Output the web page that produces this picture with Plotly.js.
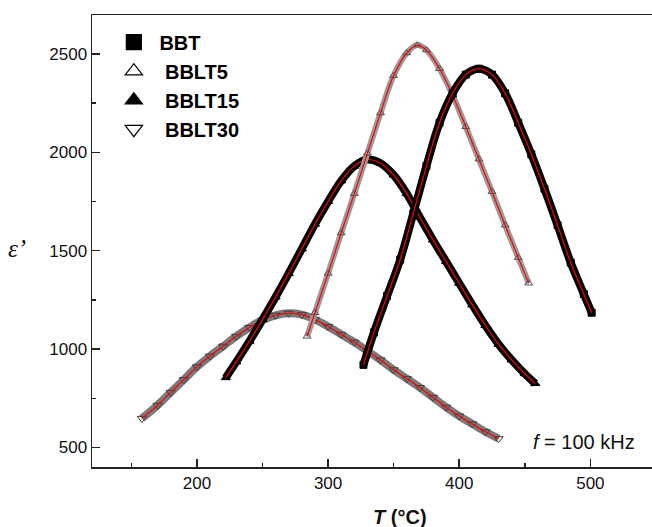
<!DOCTYPE html>
<html>
<head>
<meta charset="utf-8">
<script src="https://cdn.plot.ly/plotly-3.0.1.min.js"></script>
<style>html,body{margin:0;padding:0;background:#fff;}#chart{width:652px;height:527px;}</style>
</head>
<body>
<div id="chart"></div>
<script>
// Temperature (°C) and permittivity values
const T_BBT = [327, 335, 345, 355, 365, 375, 385, 395, 405, 415, 425, 435, 445, 455, 465, 475, 485, 495, 501];
const E_BBT = [920, 1085, 1270, 1455, 1690, 1930, 2150, 2300, 2395, 2425, 2395, 2300, 2150, 1990, 1815, 1630, 1440, 1280, 1185];

const T_BBLT5 = [284, 290, 300, 310, 320, 330, 340, 350, 360, 368, 375, 385, 395, 405, 415, 425, 435, 445, 453];
const E_BBLT5 = [1065, 1185, 1385, 1590, 1790, 1995, 2200, 2390, 2505, 2545, 2520, 2425, 2290, 2130, 1965, 1800, 1630, 1465, 1335];

const T_BBLT15 = [222, 230, 240, 250, 260, 270, 280, 290, 300, 310, 320, 329, 340, 350, 360, 370, 380, 390, 400, 410, 420, 430, 440, 450, 458];
const E_BBLT15 = [855, 935, 1040, 1150, 1265, 1385, 1510, 1635, 1750, 1855, 1930, 1963, 1945, 1885, 1790, 1670, 1555, 1445, 1335, 1225, 1120, 1025, 945, 875, 825];

const T_BBLT30 = [158, 170, 180, 190, 200, 210, 220, 230, 240, 250, 260, 270, 280, 290, 300, 310, 320, 330, 340, 350, 360, 370, 380, 390, 400, 410, 420, 430];
const E_BBLT30 = [648, 715, 780, 845, 910, 965, 1015, 1065, 1110, 1148, 1172, 1182, 1175, 1150, 1115, 1075, 1035, 990, 945, 895, 850, 805, 755, 705, 660, 620, 580, 545];

const seriesNames = ['BBT', '\u00a0BBLT5', '\u00a0BBLT15', '\u00a0BBLT30'];

const FONT = 'Liberation Sans, Arial, Helvetica, sans-serif';

const series = [
  {x: T_BBLT30, y: E_BBLT30, band: '#7a7a7a', bw: 8, sym: 'triangle-down-open', mc: '#3f3f3f', ms: 8},
  {x: T_BBLT15, y: E_BBLT15, band: '#000000', bw: 8, sym: 'triangle-up', mc: '#000000', ms: 8},
  {x: T_BBLT5,  y: E_BBLT5,  band: '#9a9a9a', bw: 6, sym: 'triangle-up-open', mc: '#555555', ms: 7},
  {x: T_BBT,    y: E_BBT,    band: '#000000', bw: 8, sym: 'square', mc: '#000000', ms: 7}
];

const traces = [];
series.forEach(s => {
  traces.push({x: s.x, y: s.y, type: 'scatter', mode: 'lines', showlegend: false, hoverinfo: 'skip',
    line: {color: s.band, width: s.bw, shape: 'spline', smoothing: 1}});
  traces.push({x: s.x, y: s.y, type: 'scatter', mode: 'markers', showlegend: false,
    marker: {symbol: s.sym, color: s.mc, size: s.ms, line: {color: s.mc, width: 1}}});
  traces.push({x: s.x, y: s.y, type: 'scatter', mode: 'lines', showlegend: false, hoverinfo: 'skip',
    line: {color: '#ff0000', width: 1.2, shape: 'spline', smoothing: 1}});
});

// legend entries
const legSyms = [
  {sym: 'square', color: '#000000'},
  {sym: 'triangle-up-open', color: '#000000'},
  {sym: 'triangle-up', color: '#000000'},
  {sym: 'triangle-down-open', color: '#000000'}
];
legSyms.forEach((l, i) => {
  traces.push({x: [null], y: [null], type: 'scatter', mode: 'markers', name: '\u00a0' + seriesNames[i],
    legendgroup: 'g' + i, showlegend: true,
    marker: {symbol: l.sym, color: l.color, size: 15, line: {color: l.color, width: 1.2}}});
});

const layout = {
  width: 652, height: 527,
  margin: {l: 92, r: 0, t: 15, b: 60},
  paper_bgcolor: '#ffffff', plot_bgcolor: '#ffffff',
  font: {family: FONT, color: '#111111'},
  showlegend: true,
  legend: {x: 0.039, y: 0.983, xanchor: 'left', yanchor: 'top', bgcolor: 'rgba(0,0,0,0)',
    font: {family: FONT, size: 20, color: '#000000', weight: 'bold'}, tracegroupgap: 0, traceorder: 'grouped'},
  xaxis: {range: [120, 547], showline: true, linecolor: '#222222', linewidth: 1.5, mirror: true,
    showgrid: false, zeroline: false, ticks: 'inside', ticklen: 8, tickwidth: 1.5, tickcolor: '#222222',
    tick0: 0, dtick: 100, tickfont: {family: FONT, size: 17, color: '#111111'},
    minor: {ticks: 'inside', ticklen: 4, tickwidth: 1.5, tickcolor: '#222222', dtick: 50, tick0: 0, showgrid: false}},
  yaxis: {range: [401, 2698], showline: true, linecolor: '#222222', linewidth: 1.5, mirror: false,
    showgrid: false, zeroline: false, ticks: 'inside', ticklen: 8, tickwidth: 1.5, tickcolor: '#222222',
    tick0: 0, dtick: 500, tickfont: {family: FONT, size: 17, color: '#111111'},
    minor: {ticks: 'inside', ticklen: 4, tickwidth: 1.5, tickcolor: '#222222', dtick: 250, tick0: 0, showgrid: false}},
  annotations: [
    {text: '<b><i>T</i> (°C)</b>', xref: 'paper', yref: 'paper', x: 0.55, y: -0.111, xanchor: 'center', yanchor: 'middle',
      showarrow: false, font: {family: FONT, size: 20, color: '#111111'}},
    {text: '<i>ε’</i>', xref: 'paper', yref: 'paper', x: -0.134, y: 0.483, xanchor: 'center', yanchor: 'middle',
      showarrow: false, font: {family: 'Liberation Serif, Times New Roman, serif', size: 25, color: '#111111'}},
    {text: '<i>f</i> = 100 kHz', xref: 'paper', yref: 'paper', x: 0.973, y: 0.055, xanchor: 'right', yanchor: 'middle',
      showarrow: false, font: {family: FONT, size: 20, color: '#111111'}}
  ]
};

Plotly.newPlot('chart', traces, layout, {displayModeBar: false, staticPlot: true});
</script>
</body>
</html>
